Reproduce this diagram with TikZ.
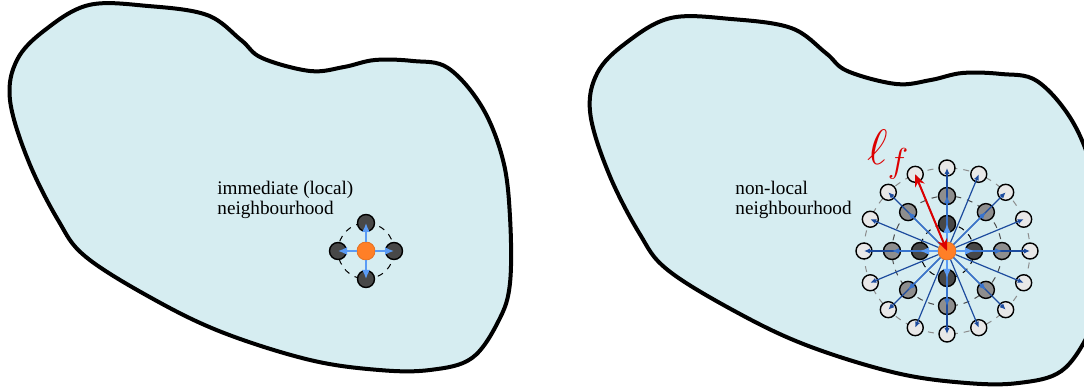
\documentclass[tikz,border=0pt]{standalone}
\usepackage{fontspec}
\setmainfont{Liberation Serif}
\usepackage{amsmath,amssymb}
\usepackage{tikz}
\usetikzlibrary{arrows.meta,positioning,calc}
\definecolor{nbfill}{RGB}{214,237,241}
\definecolor{nbdark}{RGB}{72,72,72}
\definecolor{nbmid}{RGB}{142,142,142}
\definecolor{nblight}{RGB}{232,232,232}
\definecolor{nborange}{RGB}{255,127,39}
\definecolor{nbsky}{RGB}{90,155,245}
\definecolor{nbmidblue}{RGB}{55,115,205}
\definecolor{nbblue}{RGB}{28,75,158}
\definecolor{nbred}{RGB}{220,0,0}
\newcommand{\nbblob}[1]{%
  \draw[nbregion,#1] plot[smooth cycle, tension=0.6] coordinates {
    (89,5) (148,6) (207,15) (241,40) (262,58) (310,71) (344,67) (375,60)
    (413,61) (448,68) (482,107) (503,160) (510,217) (510,283) (499,320)
    (472,358) (430,370) (379,370) (310,360) (224,333) (155,300) (86,257)
    (58,220) (28,160) (10,100) (17,60) (45,30)};}
\tikzset{
  nbregion/.style={draw=black, line width=2pt, fill=nbfill},
  nbcell/.style={circle, draw=black, line width=0.7pt, minimum size=8.5pt, inner sep=0pt},
  nbdarkcell/.style={nbcell, fill=nbdark},
  nbmidcell/.style={nbcell, fill=nbmid},
  nblightcell/.style={nbcell, fill=nblight, minimum size=8pt},
  nbcentre/.style={circle, fill=nborange, draw=nborange!90!black, line width=0.4pt, minimum size=9pt, inner sep=0pt},
  nbring/.style={line width=0.5pt, dash pattern=on 3pt off 3pt},
  nbnear/.style={-{Latex[length=4.5pt,width=4pt]}, line width=1.2pt, draw=nbsky},
  nbmed/.style={-{Latex[length=3.5pt,width=3pt]}, line width=0.6pt, draw=nbmidblue},
  nbfar/.style={-{Latex[length=3pt,width=2.6pt]}, line width=0.6pt, draw=nbblue},
  nbscale/.style={{Stealth[length=6pt,width=5pt,open]}-{Stealth[length=6pt,width=5pt,open]}, line width=1pt, draw=nbred},
  nblabel/.style={align=left, inner sep=0pt, anchor=north west, font=\fontsize{9.6}{10}\selectfont}
}
\begin{document}
\begin{tikzpicture}[x=0.5pt, y=-0.5pt]
  \useasboundingbox (0,0) rectangle (1084,389);
  \clip (0,0) rectangle (1084,389);
  % the two regions
  \nbblob{}
  \nbblob{shift={(580,13)}, xscale=1.02}

  % local neighbourhood
  \node[nblabel] (loctext) at (217,181) {immediate (local)\\neighbourhood};
  \node[nbcentre] (lc) at (366,251) {};
  \draw[nbring] (lc) circle[radius=14pt];
  \foreach \i in {1,...,4}
    \node[nbdarkcell] (ln-\i) at ($(lc)+({(\i-1)*90}:14pt)$) {};
  \foreach \i in {1,...,4}
    \draw[nbnear] (lc) -- (ln-\i.center);

  % non-local neighbourhood
  \node[nblabel] (nonloctext) at (735,181) {non-local\\neighbourhood};
  \node[nbcentre] (rc) at (947,251) {};
  \draw[nbring] (rc) circle[radius=13.5pt];
  \draw[nbring, draw=black!70] (rc) circle[radius=27.5pt];
  \draw[nbring, draw=black!45] (rc) circle[radius=41.5pt];
  \foreach \i in {1,...,4}
    \node[nbdarkcell] (rd-\i) at ($(rc)+({(\i-1)*90}:13.5pt)$) {};
  \foreach \i in {1,...,8}
    \node[nbmidcell] (rm-\i) at ($(rc)+({(\i-1)*45}:27.5pt)$) {};
  \foreach \i in {1,...,16}
    \node[nblightcell] (ro-\i) at ($(rc)+({(\i-1)*22.5}:41.5pt)$) {};
  \foreach \i in {1,...,16}
    \draw[nbfar] (rc) -- (ro-\i.center);
  \foreach \i in {1,...,8}
    \draw[nbmed] (rc) -- (rm-\i.center);
  \foreach \i in {1,...,4}
    \draw[nbnear] (rc) -- (rd-\i.center);
  \draw[nbscale] (rc.center) -- (ro-6.center);
  \node[text=nbred, inner sep=0pt, anchor=base west] (lf) at (867,165)
    {\fontsize{24}{24}\selectfont$\ell_f$};
\end{tikzpicture}
\end{document}
